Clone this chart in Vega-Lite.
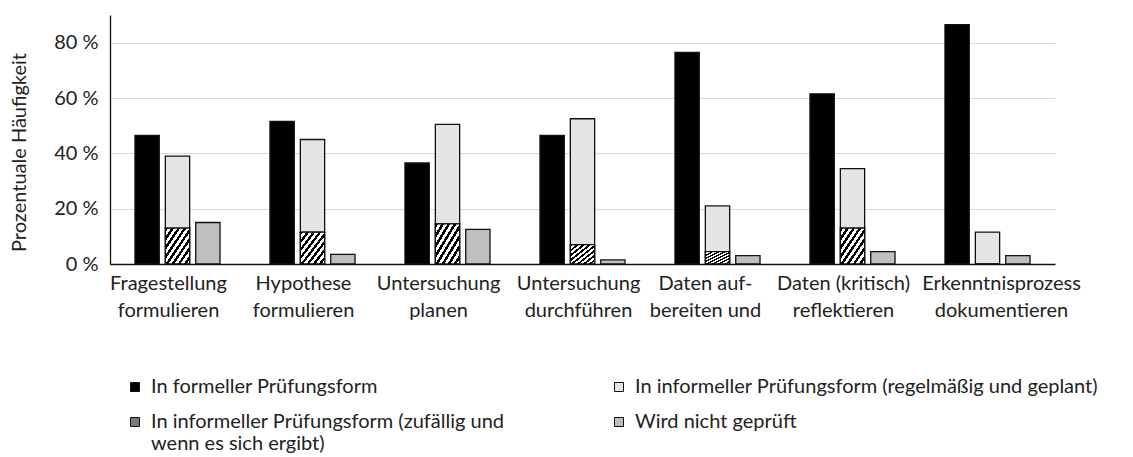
{
  "$schema": "https://vega.github.io/schema/vega-lite/v6.json",
  "width": 945,
  "height": 249,
  "autosize": "none",
  "padding": {"left": 110, "top": 15, "right": 78, "bottom": 193},
  "background": "white",
  "config": {"view": {"stroke": null}, "font": "Lato"},
  "data": {
    "values": [
      {"cat": "Fragestellung\nformulieren", "pos": "A", "series": "In formeller Prüfungsform", "ord": 1, "value": 46.5},
      {"cat": "Fragestellung\nformulieren", "pos": "B", "series": "In informeller Prüfungsform (zufällig und wenn es sich ergibt)", "ord": 1, "value": 13},
      {"cat": "Fragestellung\nformulieren", "pos": "B", "series": "In informeller Prüfungsform (regelmäßig und geplant)", "ord": 2, "value": 26},
      {"cat": "Fragestellung\nformulieren", "pos": "C", "series": "Wird nicht geprüft", "ord": 1, "value": 15},
      {"cat": "Hypothese\nformulieren", "pos": "A", "series": "In formeller Prüfungsform", "ord": 1, "value": 51.5},
      {"cat": "Hypothese\nformulieren", "pos": "B", "series": "In informeller Prüfungsform (zufällig und wenn es sich ergibt)", "ord": 1, "value": 11.5},
      {"cat": "Hypothese\nformulieren", "pos": "B", "series": "In informeller Prüfungsform (regelmäßig und geplant)", "ord": 2, "value": 33.5},
      {"cat": "Hypothese\nformulieren", "pos": "C", "series": "Wird nicht geprüft", "ord": 1, "value": 3.5},
      {"cat": "Untersuchung\nplanen", "pos": "A", "series": "In formeller Prüfungsform", "ord": 1, "value": 36.5},
      {"cat": "Untersuchung\nplanen", "pos": "B", "series": "In informeller Prüfungsform (zufällig und wenn es sich ergibt)", "ord": 1, "value": 14.5},
      {"cat": "Untersuchung\nplanen", "pos": "B", "series": "In informeller Prüfungsform (regelmäßig und geplant)", "ord": 2, "value": 36},
      {"cat": "Untersuchung\nplanen", "pos": "C", "series": "Wird nicht geprüft", "ord": 1, "value": 12.5},
      {"cat": "Untersuchung\ndurchführen", "pos": "A", "series": "In formeller Prüfungsform", "ord": 1, "value": 46.5},
      {"cat": "Untersuchung\ndurchführen", "pos": "B", "series": "In informeller Prüfungsform (zufällig und wenn es sich ergibt)", "ord": 1, "value": 7},
      {"cat": "Untersuchung\ndurchführen", "pos": "B", "series": "In informeller Prüfungsform (regelmäßig und geplant)", "ord": 2, "value": 45.5},
      {"cat": "Untersuchung\ndurchführen", "pos": "C", "series": "Wird nicht geprüft", "ord": 1, "value": 1.5},
      {"cat": "Daten auf-\nbereiten und", "pos": "A", "series": "In formeller Prüfungsform", "ord": 1, "value": 76.5},
      {"cat": "Daten auf-\nbereiten und", "pos": "B", "series": "In informeller Prüfungsform (zufällig und wenn es sich ergibt)", "ord": 1, "value": 4.5},
      {"cat": "Daten auf-\nbereiten und", "pos": "B", "series": "In informeller Prüfungsform (regelmäßig und geplant)", "ord": 2, "value": 16.5},
      {"cat": "Daten auf-\nbereiten und", "pos": "C", "series": "Wird nicht geprüft", "ord": 1, "value": 3},
      {"cat": "Daten (kritisch)\nreflektieren", "pos": "A", "series": "In formeller Prüfungsform", "ord": 1, "value": 61.5},
      {"cat": "Daten (kritisch)\nreflektieren", "pos": "B", "series": "In informeller Prüfungsform (zufällig und wenn es sich ergibt)", "ord": 1, "value": 13},
      {"cat": "Daten (kritisch)\nreflektieren", "pos": "B", "series": "In informeller Prüfungsform (regelmäßig und geplant)", "ord": 2, "value": 21.5},
      {"cat": "Daten (kritisch)\nreflektieren", "pos": "C", "series": "Wird nicht geprüft", "ord": 1, "value": 4.5},
      {"cat": "Erkenntnisprozess\ndokumentieren", "pos": "A", "series": "In formeller Prüfungsform", "ord": 1, "value": 86.5},
      {"cat": "Erkenntnisprozess\ndokumentieren", "pos": "B", "series": "In informeller Prüfungsform (zufällig und wenn es sich ergibt)", "ord": 1, "value": 0},
      {"cat": "Erkenntnisprozess\ndokumentieren", "pos": "B", "series": "In informeller Prüfungsform (regelmäßig und geplant)", "ord": 2, "value": 11.5},
      {"cat": "Erkenntnisprozess\ndokumentieren", "pos": "C", "series": "Wird nicht geprüft", "ord": 1, "value": 3}
    ]
  },
  "encoding": {
    "x": {
      "field": "cat", "type": "nominal", "sort": null,
      "scale": {"paddingInner": 0.37, "paddingOuter": 0.185},
      "axis": {
        "title": null, "labelAngle": 0, "ticks": false, "domainColor": "#111111", "domainWidth": 1.5,
        "labelFontSize": 20, "labelColor": "#222222", "labelPadding": 9, "labelLineHeight": 27,
        "labelLimit": 0, "labelExpr": "split(datum.label, '\\n')", "grid": false,
        "labelOffset": {
          "condition": [
            {"test": "indexof(datum.value, 'Erkenntnis') >= 0", "value": 14},
            {"test": "indexof(datum.value, 'bereiten') >= 0", "value": -12},
            {"test": "indexof(datum.value, 'durchf') >= 0", "value": -4}
          ],
          "value": -9
        }
      }
    },
    "xOffset": {
      "field": "pos", "type": "nominal",
      "scale": {"domain": ["A", "B", "C"], "paddingInner": 0.2, "paddingOuter": 0}
    },
    "y": {
      "field": "value", "type": "quantitative", "stack": "zero",
      "scale": {"domain": [0, 90], "nice": false},
      "axis": {
        "title": "Prozentuale Häufigkeit", "titleFontSize": 20, "titleFontWeight": "normal", "titleColor": "#222222",
        "titlePadding": 24, "titleY": 137,
        "values": [0, 20, 40, 60, 80], "labelExpr": "datum.value + ' %'",
        "ticks": false, "domainColor": "#111111", "domainWidth": 1.3,
        "gridColor": "#d9d9d9", "gridWidth": 1,
        "labelFontSize": 20, "labelColor": "#222222", "labelPadding": 12
      }
    },
    "order": {"field": "ord", "type": "quantitative"}
  },
  "layer": [
    {
      "mark": {"type": "bar", "stroke": "#111111", "strokeWidth": 1.3},
      "encoding": {
        "color": {
          "field": "series", "type": "nominal",
          "scale": {
            "domain": [
              "In formeller Prüfungsform",
              "In informeller Prüfungsform (regelmäßig und geplant)",
              "In informeller Prüfungsform (zufällig und wenn es sich ergibt)",
              "Wird nicht geprüft"
            ],
            "range": ["#000000", "#e4e4e4", "#7a7a7a", "#bfbfbf"]
          },
          "legend": {
            "title": null, "orient": "none", "legendX": 15, "legendY": 362, "columns": 2, "columnPadding": 104,
            "direction": "horizontal",
            "symbolType": "square", "symbolSize": 81, "symbolStrokeColor": "#111111", "symbolStrokeWidth": 1,
            "labelFontSize": 20, "labelColor": "#222222", "labelLimit": 0, "rowPadding": 15, "labelOffset": 6,
            "labelExpr": "datum.label == 'In informeller Prüfungsform (zufällig und wenn es sich ergibt)' ? ['In informeller Prüfungsform (zufällig und', 'wenn es sich ergibt)'] : datum.label"
          }
        }
      }
    },
    {
      "transform": [{"filter": "datum.series == 'In informeller Prüfungsform (zufällig und wenn es sich ergibt)'"}],
      "mark": {
        "type": "bar", "stroke": "#111111", "strokeWidth": 1.3,
        "fill": {"gradient": "linear", "x1": 0, "y1": 0, "x2": 1, "y2": 1, "stops": [
          {"offset": 0, "color": "#000000"}, {"offset": 0.06, "color": "#000000"}, {"offset": 0.06, "color": "#ffffff"}, {"offset": 0.125, "color": "#ffffff"},
          {"offset": 0.125, "color": "#000000"}, {"offset": 0.185, "color": "#000000"}, {"offset": 0.185, "color": "#ffffff"}, {"offset": 0.25, "color": "#ffffff"},
          {"offset": 0.25, "color": "#000000"}, {"offset": 0.31, "color": "#000000"}, {"offset": 0.31, "color": "#ffffff"}, {"offset": 0.375, "color": "#ffffff"},
          {"offset": 0.375, "color": "#000000"}, {"offset": 0.435, "color": "#000000"}, {"offset": 0.435, "color": "#ffffff"}, {"offset": 0.5, "color": "#ffffff"},
          {"offset": 0.5, "color": "#000000"}, {"offset": 0.56, "color": "#000000"}, {"offset": 0.56, "color": "#ffffff"}, {"offset": 0.625, "color": "#ffffff"},
          {"offset": 0.625, "color": "#000000"}, {"offset": 0.685, "color": "#000000"}, {"offset": 0.685, "color": "#ffffff"}, {"offset": 0.75, "color": "#ffffff"},
          {"offset": 0.75, "color": "#000000"}, {"offset": 0.81, "color": "#000000"}, {"offset": 0.81, "color": "#ffffff"}, {"offset": 0.875, "color": "#ffffff"},
          {"offset": 0.875, "color": "#000000"}, {"offset": 0.935, "color": "#000000"}, {"offset": 0.935, "color": "#ffffff"}, {"offset": 1, "color": "#ffffff"}
        ]}
      }
    }
  ]
}
